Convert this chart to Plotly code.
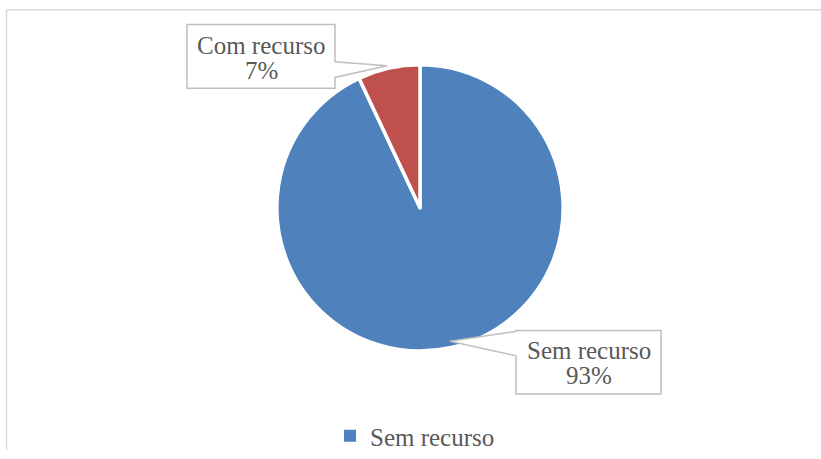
import plotly.graph_objects as go

labels = ["Sem recurso", "Com recurso"]
values = [93, 7]
colors = ["#4F81BD", "#C0504D"]

W, H = 821, 459
FONT = "Liberation Serif"
TXT = "#595959"


def px(x):
    return x / W


def py(y):
    return 1 - y / H


def path(points):
    return "M " + " L ".join(f"{px(x):.5f},{py(y):.5f}" for x, y in points) + " Z"


fig = go.Figure()

fig.add_trace(go.Pie(
    labels=labels, values=values, sort=False, direction="clockwise", rotation=0,
    marker=dict(colors=colors, line=dict(color="white", width=3.5)),
    textinfo="none", hoverinfo="label+percent", showlegend=False,
    domain=dict(x=[px(274), px(566)], y=[py(358), py(66)]),
))

# legend entry (only the first one is visible in the original)
fig.add_trace(go.Scatter(
    x=[None], y=[None], mode="markers", name=labels[0],
    marker=dict(symbol="square", size=8, color=colors[0]),
))

total = sum(values)
pct = [round(v * 100 / total) for v in values]

# chart frame + callout boxes with pointers
shapes = [
    dict(type="line", xref="paper", yref="paper", x0=px(6.5), x1=px(6.5), y0=0, y1=py(10),
         line=dict(color="#D9D9D9", width=1.5)),
    dict(type="line", xref="paper", yref="paper", x0=px(6.5), x1=1, y0=py(10), y1=py(10),
         line=dict(color="#D9D9D9", width=1.5)),
    dict(type="path", xref="paper", yref="paper",
         path=path([(187, 25), (335, 25), (335, 63), (387, 67), (335, 79), (335, 90), (187, 90)]),
         fillcolor="white", line=dict(color="#BFBFBF", width=1.5), layer="above"),
    dict(type="path", xref="paper", yref="paper",
         path=path([(516, 337), (661, 337), (661, 402), (516, 402), (516, 363), (450, 348), (516, 338)]),
         fillcolor="white", line=dict(color="#BFBFBF", width=1.5), layer="above"),
]


def label(x, y, text):
    return dict(x=px(x), y=py(y), xref="paper", yref="paper", showarrow=False,
                xanchor="center", yanchor="middle", text=text,
                font=dict(family=FONT, size=25, color=TXT))


annotations = [
    label(261, 46, labels[1]),
    label(261, 72, f"{pct[1]}%"),
    label(588.5, 357, labels[0]),
    label(588.5, 383, f"{pct[0]}%"),
]

fig.update_layout(
    width=W, height=H, margin=dict(l=0, r=0, t=0, b=0),
    paper_bgcolor="white", plot_bgcolor="white",
    xaxis=dict(visible=False), yaxis=dict(visible=False),
    shapes=shapes, annotations=annotations,
    legend=dict(orientation="h", x=px(330), xanchor="left", y=py(445), yanchor="middle",
                font=dict(family=FONT, size=25, color=TXT), itemsizing="constant"),
)

fig.write_html("out.html", config={"displayModeBar": False},
               post_script="document.body.style.margin='0';")
